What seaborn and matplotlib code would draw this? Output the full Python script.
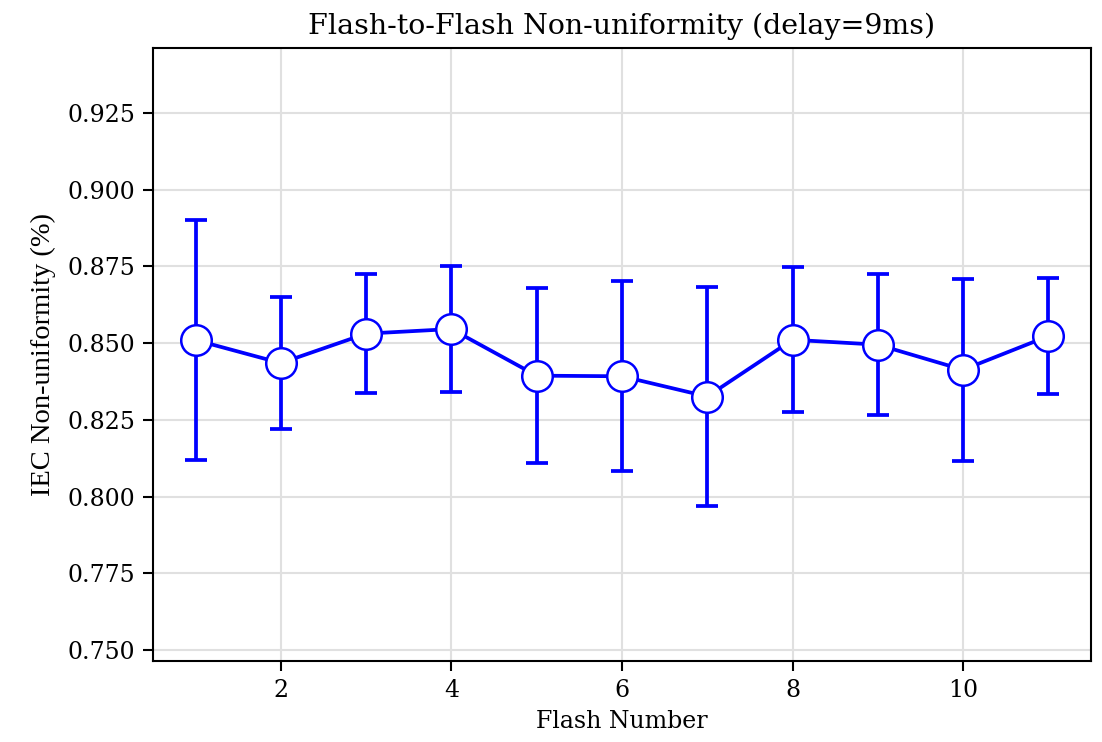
import matplotlib
matplotlib.use("Agg")
import matplotlib.pyplot as plt
import seaborn as sns
import pandas as pd

# Flash-to-flash measurements: mean non-uniformity and its spread per flash
flash_number = [1, 2, 3, 4, 5, 6, 7, 8, 9, 10, 11]
mean_nonuniformity = [0.8510, 0.8435, 0.8531, 0.8546, 0.8394, 0.8392,
                      0.8326, 0.8511, 0.8495, 0.8413, 0.8523]
std_nonuniformity = [0.0391, 0.0216, 0.0193, 0.0204, 0.0285, 0.0310,
                     0.0358, 0.0236, 0.0229, 0.0296, 0.0189]
x_ticks = [2, 4, 6, 8, 10]
y_ticks = [0.750, 0.775, 0.800, 0.825, 0.850, 0.875, 0.900, 0.925]

df = pd.DataFrame({"flash": flash_number,
                   "mean": mean_nonuniformity,
                   "std": std_nonuniformity})

sns.set_style("whitegrid")
plt.rcParams["font.family"] = ["DejaVu Serif"]
plt.rcParams["text.color"] = "black"
plt.rcParams["axes.labelcolor"] = "black"
plt.rcParams["xtick.color"] = "black"
plt.rcParams["ytick.color"] = "black"

fig = plt.figure(figsize=(11.02, 7.42), dpi=100)
ax = fig.add_axes([0.1388, 0.1092, 0.8512, 0.8261])

blue = "#0000ff"
ax.errorbar(df["flash"], df["mean"], yerr=df["std"], fmt="none",
            ecolor=blue, elinewidth=2.7, capsize=8, capthick=2.7, zorder=2)
sns.lineplot(data=df, x="flash", y="mean", ax=ax, color=blue, linewidth=2.7,
             marker="o", markersize=22, markerfacecolor="white",
             markeredgecolor=blue, markeredgewidth=1.8, zorder=3)

ax.set_xlim(0.5, 11.5)
ax.set_ylim(0.7464, 0.9462)
ax.set_xticks(x_ticks)
ax.set_yticks(y_ticks)
ax.yaxis.set_major_formatter(matplotlib.ticker.FormatStrFormatter("%.3f"))

ax.grid(True, color="#e0e0e0", linewidth=1.5)
for s in ax.spines.values():
    s.set_color("black")
    s.set_linewidth(1.5)
ax.tick_params(axis="both", which="major", length=7, width=1.5,
               color="black", labelcolor="black", labelsize=17,
               left=True, bottom=True, pad=6)

ax.set_title("Flash-to-Flash Non-uniformity (delay=9ms)", fontsize=20.5,
             pad=10, color="black")
ax.set_xlabel("Flash Number", fontsize=17, labelpad=6)
ax.set_ylabel("IEC Non-uniformity (%)", fontsize=20.5,
              family=["Liberation Serif"], labelpad=8)

fig.savefig("out.png", dpi=100)
